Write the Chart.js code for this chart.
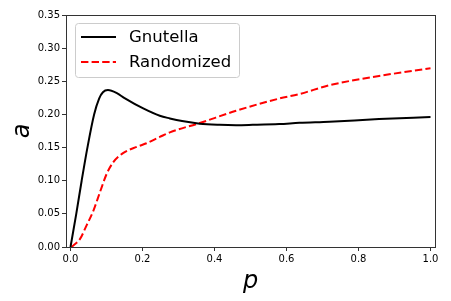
<!DOCTYPE html>
<html>
<head>
<meta charset="utf-8">
<script src="https://cdn.jsdelivr.net/npm/chart.js@4/dist/chart.umd.min.js"></script>
<style>
  html, body { margin: 0; padding: 0; background: #fff; }
  #wrap { width: 451px; height: 301px; }
</style>
</head>
<body>
<div id="wrap"><canvas id="myChart" width="451" height="301"></canvas></div>
<script>
// datos
const gnutellaP = [0, 0.016, 0.031, 0.047, 0.0656, 0.0795, 0.090, 0.104, 0.13, 0.149, 0.202, 0.248, 0.276, 0.31, 0.359, 0.414, 0.46, 0.506, 0.58, 0.636, 0.719, 0.857, 1.0];
const gnutellaA = [0, 0.05, 0.10, 0.15, 0.20, 0.224, 0.2335, 0.2367, 0.2317, 0.225, 0.209, 0.198, 0.194, 0.190, 0.186, 0.1843, 0.1838, 0.1843, 0.1855, 0.1873, 0.189, 0.193, 0.196];

const randomP = [0.003, 0.027, 0.045, 0.064, 0.082, 0.101, 0.119, 0.147, 0.184, 0.211, 0.248, 0.276, 0.359, 0.46, 0.58, 0.636, 0.719, 0.857, 1.0];
const randomA = [0, 0.0127, 0.033, 0.0554, 0.083, 0.111, 0.128, 0.142, 0.151, 0.1565, 0.166, 0.173, 0.187, 0.2055, 0.224, 0.2307, 0.244, 0.258, 0.2695];

const xTicks = [0, 0.2, 0.4, 0.6, 0.8, 1.0];
const yTicks = [0, 0.05, 0.10, 0.15, 0.20, 0.25, 0.30, 0.35];

const FONT = "'DejaVu Sans', sans-serif";

function toPoints(xs, ys) {
  return xs.map((x, i) => ({ x: x, y: ys[i] }));
}

// marco completo y leyenda dentro del area (estilo matplotlib)
const framePlugin = {
  id: "frame",
  afterDraw(chart) {
    const ctx = chart.ctx;
    const a = chart.chartArea;
    ctx.save();
    ctx.strokeStyle = "#333";
    ctx.lineWidth = 1;
    ctx.strokeRect(Math.round(a.left) + 0.5, Math.round(a.top) + 0.5, Math.round(a.right - a.left), Math.round(a.bottom - a.top));

    // leyenda
    const bx = a.left + 9, by = a.top + 8, bw = 164, bh = 54;
    ctx.fillStyle = "rgba(255,255,255,0.8)";
    ctx.strokeStyle = "#ccc";
    ctx.beginPath();
    ctx.roundRect(bx + 0.5, by + 0.5, bw, bh, 3);
    ctx.fill();
    ctx.stroke();
    ctx.font = "16.5px " + FONT;
    ctx.textBaseline = "middle";
    chart.data.datasets.forEach((ds, i) => {
      const y = by + 14 + i * 25;
      ctx.strokeStyle = ds.borderColor;
      ctx.lineWidth = ds.borderWidth;
      ctx.setLineDash(ds.borderDash || []);
      ctx.beginPath();
      ctx.moveTo(bx + 6, y);
      ctx.lineTo(bx + 41, y);
      ctx.stroke();
      ctx.setLineDash([]);
      ctx.fillStyle = "#000";
      ctx.fillText(ds.label, bx + 54, y + 1);
    });
    ctx.restore();
  }
};

const config = {
  type: "line",
  data: {
    datasets: [
      {
        label: "Gnutella",
        data: toPoints(gnutellaP, gnutellaA),
        borderColor: "#000",
        borderWidth: 2,
        pointRadius: 0,
        cubicInterpolationMode: "monotone",
        fill: false
      },
      {
        label: "Randomized",
        data: toPoints(randomP, randomA),
        borderColor: "#ff0000",
        borderWidth: 2,
        borderDash: [7.4, 3.2],
        pointRadius: 0,
        cubicInterpolationMode: "monotone",
        fill: false
      }
    ]
  },
  options: {
    responsive: false,
    animation: false,
    layout: { padding: { top: 15, right: 16, left: 0, bottom: 0 } },
    plugins: {
      legend: { display: false },
      tooltip: { enabled: false }
    },
    scales: {
      x: {
        type: "linear",
        min: -0.0125,
        max: 1.0125,
        afterBuildTicks: (scale) => { scale.ticks = xTicks.map(v => ({ value: v })); },
        afterFit: (scale) => { scale.height = 54; },
        grid: { display: true, drawOnChartArea: false, drawTicks: true, tickLength: 4, color: "#333" },
        border: { display: false },
        ticks: {
          color: "#000",
          font: { family: FONT, size: 10 },
          padding: 2,
          maxRotation: 0,
          callback: (v) => v.toFixed(1)
        },
        title: {
          display: true,
          text: "p",
          color: "#000",
          font: { family: FONT, size: 24, style: "italic" },
          padding: { top: 4, bottom: 5 }
        }
      },
      y: {
        type: "linear",
        min: 0,
        max: 0.35,
        afterBuildTicks: (scale) => { scale.ticks = yTicks.map(v => ({ value: v })); },
        afterFit: (scale) => { scale.width = 66; },
        grid: { display: true, drawOnChartArea: false, drawTicks: true, tickLength: 4, color: "#333" },
        border: { display: false },
        ticks: {
          color: "#000",
          font: { family: FONT, size: 10 },
          padding: 2,
          callback: (v) => v.toFixed(2)
        },
        title: {
          display: true,
          text: "a",
          color: "#000",
          font: { family: FONT, size: 24, style: "italic" },
          padding: { top: 8, bottom: 8 }
        }
      }
    }
  },
  plugins: [framePlugin]
};

const myChart = new Chart(document.getElementById("myChart"), config);
</script>
</body>
</html>
